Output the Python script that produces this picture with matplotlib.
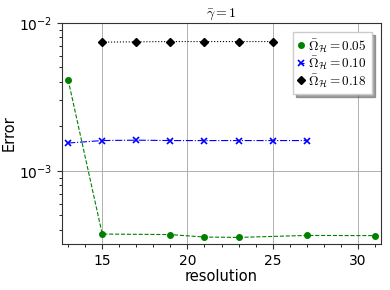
import numpy as np
import matplotlib
matplotlib.use("Agg")
import matplotlib.pyplot as plt
from matplotlib.ticker import MultipleLocator

plt.rcParams['mathtext.fontset'] = 'cm'

# data
res_a = [13, 15, 19, 21, 23, 27, 31]
err_a = [4.12e-3, 3.73e-4, 3.70e-4, 3.56e-4, 3.54e-4, 3.65e-4, 3.64e-4]

res_b = [13, 15, 17, 19, 21, 23, 25, 27]
err_b = [1.54e-3, 1.60e-3, 1.61e-3, 1.60e-3, 1.60e-3, 1.60e-3, 1.60e-3, 1.60e-3]

res_c = [15, 17, 19, 21, 23, 25]
err_c = [7.41e-3, 7.45e-3, 7.48e-3, 7.48e-3, 7.48e-3, 7.48e-3]

labels = [r'$\bar{\Omega}_{\mathcal{H}}=0.05$',
          r'$\bar{\Omega}_{\mathcal{H}}=0.10$',
          r'$\bar{\Omega}_{\mathcal{H}}=0.18$']

fig = plt.figure(figsize=(3.9, 2.9), dpi=100)
ax = fig.add_axes([0.159, 0.159, 0.818, 0.762])

ax.plot(res_a, err_a, 'o--', color='green', ms=4, lw=0.8, label=labels[0])
ax.plot(res_b, err_b, 'x-.', color='blue', ms=5, mew=1.2, lw=0.8, label=labels[1])
ax.plot(res_c, err_c, 'D:', color='black', ms=4, lw=0.8, label=labels[2])

ax.set_yscale('log')
ax.set_ylim(3.2e-4, 1e-2)
ax.set_xlim(12.64, 31.36)
ax.xaxis.set_major_locator(MultipleLocator(5))
ax.xaxis.set_minor_locator(MultipleLocator(1))
ax.grid(True, which='major', color='#b0b0b0', lw=0.7)

ax.tick_params(labelsize=10, colors='#333333', labelcolor='black')
ax.tick_params(axis='y', which='minor', length=2)
for s in ax.spines.values():
    s.set_color('#333333')

ax.set_xlabel('resolution', fontsize=10.5, labelpad=1)
ax.set_ylabel('Error', fontsize=10.5, labelpad=2)
ax.set_title(r'$\bar{\gamma}=1$', fontsize=10, pad=4)

leg = ax.legend(loc='upper right', fontsize=9.5, numpoints=1, handlelength=0.4,
                handletextpad=0.3, fancybox=False, shadow=True, borderpad=0.4,
                labelspacing=0.05, borderaxespad=0.7)
leg.get_frame().set_edgecolor('#cccccc')

fig.savefig('out.png', dpi=100)
